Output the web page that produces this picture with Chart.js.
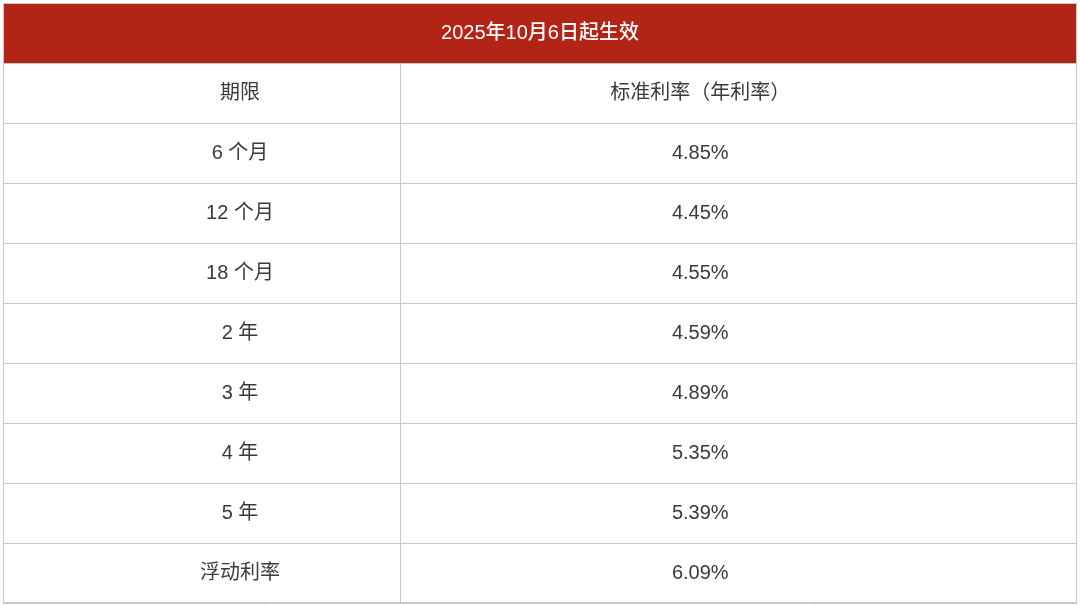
<!DOCTYPE html>
<html>
<head>
<meta charset="utf-8">
<script src="https://cdn.jsdelivr.net/npm/chart.js@4"></script>
<style>
  html, body { margin: 0; padding: 0; background: #fff; }
  #wrap { width: 1080px; height: 605px; }
</style>
</head>
<body>
<div id="wrap"><canvas id="rateTable"></canvas></div>
<script>
const tableTitle = '2025年10月6日起生效';
const headers = ['期限', '标准利率（年利率）'];
const terms = ['6 个月', '12 个月', '18 个月', '2 年', '3 年', '4 年', '5 年', '浮动利率'];
const rates = [4.85, 4.45, 4.55, 4.59, 4.89, 5.35, 5.39, 6.09];

const rowLabels = ['title', 'header', ...terms];
const FONT = '"Liberation Sans", "Noto Sans CJK SC", sans-serif';

const tablePlugin = {
    id: 'tablePlugin',
    afterDraw(chart) {
        const { ctx, chartArea, scales } = chart;
        const x = scales.x, y = scales.y;
        const rowH = y.getPixelForValue(1) - y.getPixelForValue(0);
        const top = (i) => y.getPixelForValue(i) - rowH / 2;
        const left = chartArea.left, right = chartArea.right;
        const split = x.getPixelForValue(377);
        const col1 = x.getPixelForValue(190), col2 = x.getPixelForValue(727);

        ctx.save();
        // title row
        ctx.fillStyle = '#b22416';
        ctx.fillRect(left, top(0), right - left, rowH);

        // grid lines
        ctx.strokeStyle = '#c8c8c8';
        ctx.lineWidth = 1;
        for (let i = 1; i <= rowLabels.length; i++) {
            const py = Math.round(top(i)) + 0.5;
            ctx.beginPath(); ctx.moveTo(left, py); ctx.lineTo(right, py); ctx.stroke();
        }
        ctx.beginPath();
        ctx.moveTo(Math.round(split) + 0.5, top(1));
        ctx.lineTo(Math.round(split) + 0.5, top(rowLabels.length));
        ctx.stroke();
        ctx.strokeRect(left + 0.5, top(0) + 0.5, right - left - 1, top(rowLabels.length) - top(0) - 1);

        // texts
        ctx.textAlign = 'center';
        ctx.textBaseline = 'middle';
        ctx.fillStyle = '#ffffff';
        ctx.font = '500 20px ' + FONT;
        ctx.fillText(tableTitle, x.getPixelForValue(540), y.getPixelForValue(0));

        ctx.font = '20px ' + FONT;
        ctx.fillStyle = '#3a3a3a';
        ctx.fillText(headers[0], col1, y.getPixelForValue(1));
        ctx.fillText(headers[1], col2, y.getPixelForValue(1));
        terms.forEach((t, i) => {
            ctx.fillText(t, col1, y.getPixelForValue(i + 2));
            ctx.fillText(rates[i].toFixed(2) + '%', col2, y.getPixelForValue(i + 2));
        });
        ctx.restore();
    }
};

new Chart(document.getElementById('rateTable'), {
    type: 'bar',
    data: { labels: rowLabels, datasets: [{ data: [] }] },
    options: {
        responsive: true,
        maintainAspectRatio: false,
        animation: false,
        layout: { padding: { left: 3, right: 3, top: 3, bottom: 2 } },
        plugins: { legend: { display: false }, tooltip: { enabled: false } },
        scales: {
            x: { type: 'linear', min: 3, max: 1077, display: false },
            y: { type: 'category', display: false, offset: true }
        }
    },
    plugins: [tablePlugin]
});
</script>
</body>
</html>
